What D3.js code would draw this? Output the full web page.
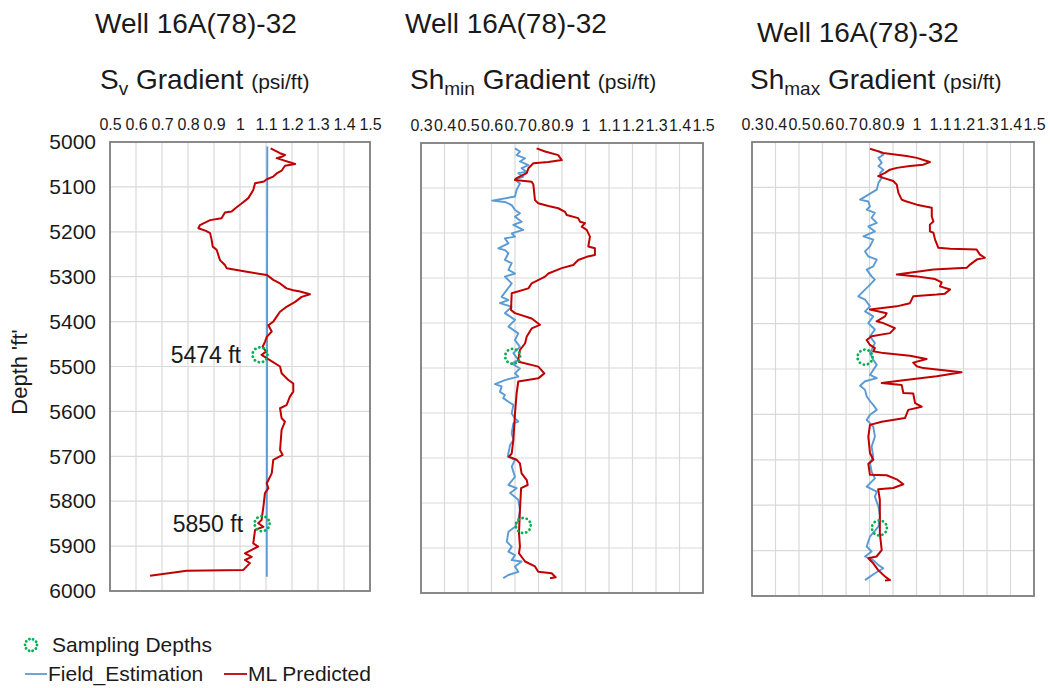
<!DOCTYPE html>
<html>
<head>
<meta charset="utf-8">
<script src="https://cdn.jsdelivr.net/npm/d3@7"></script>
<style>
  html, body { margin: 0; padding: 0; background: #fff; }
  svg { display: block; font-family: "Liberation Sans", Arial, sans-serif; }
</style>
</head>
<body>
<svg id="chart" width="1050" height="688"></svg>
<script>
// ---- Data: [depth (ft), gradient (psi/ft)] ----
const wellName = "Well 16A(78)-32";
const depthTicks = [5000, 5100, 5200, 5300, 5400, 5500, 5600, 5700, 5800, 5900, 6000];
const svTicks = [0.5, 0.6, 0.7, 0.8, 0.9, 1.0, 1.1, 1.2, 1.3, 1.4, 1.5];
const shTicks = [0.3, 0.4, 0.5, 0.6, 0.7, 0.8, 0.9, 1.0, 1.1, 1.2, 1.3, 1.4, 1.5];
const samplingDepths = [5474, 5850];
const samplingLabels = ["5474 ft", "5850 ft"];

const svField = [[5010, 1.105], [5300, 1.104], [5600, 1.104], [5850, 1.103], [5968, 1.103]];
const svML = [
  [5014,1.118],[5025,1.154],[5029,1.173],[5033,1.160],[5036,1.141],[5049,1.212],[5053,1.173],
  [5064,1.160],[5070,1.141],[5077,1.128],[5083,1.103],[5088,1.092],[5092,1.058],[5107,1.051],
  [5125,1.032],[5137,1.006],[5148,0.981],[5155,0.968],[5157,0.942],[5170,0.929],[5174,0.885],
  [5185,0.846],[5192,0.840],[5198,0.869],[5203,0.885],[5218,0.891],[5233,0.895],[5240,0.910],
  [5263,0.923],[5274,0.942],[5281,0.949],[5289,1.026],[5296,1.103],[5307,1.128],[5315,1.154],
  [5326,1.179],[5330,1.205],[5333,1.231],[5339,1.269],[5345,1.237],[5356,1.212],[5367,1.179],
  [5378,1.154],[5389,1.141],[5400,1.128],[5408,1.109],[5422,1.122],[5434,1.103],[5445,1.096],
  [5456,1.087],[5467,1.100],[5474,1.083],[5486,1.115],[5500,1.154],[5515,1.160],[5530,1.186],
  [5538,1.205],[5556,1.205],[5567,1.192],[5586,1.179],[5593,1.154],[5615,1.160],[5623,1.173],
  [5641,1.160],[5686,1.154],[5697,1.164],[5708,1.128],[5738,1.122],[5760,1.103],[5771,1.109],
  [5782,1.096],[5812,1.090],[5842,1.083],[5849,1.070],[5857,1.090],[5864,1.058],[5894,1.051],
  [5901,1.070],[5916,1.019],[5924,1.045],[5931,1.019],[5938,1.038],[5953,1.013],[5955,0.795],
  [5966,0.654]
];

const shminField = [
  [5012,0.700],[5019,0.721],[5027,0.707],[5034,0.743],[5041,0.721],[5049,0.757],[5056,0.728],
  [5064,0.750],[5067,0.714],[5075,0.735],[5081,0.700],[5090,0.721],[5104,0.707],[5119,0.700],
  [5128,0.603],[5131,0.657],[5138,0.686],[5149,0.700],[5156,0.721],[5164,0.700],[5175,0.728],
  [5182,0.693],[5193,0.735],[5201,0.686],[5208,0.700],[5212,0.657],[5223,0.672],[5234,0.629],
  [5238,0.657],[5245,0.672],[5260,0.657],[5267,0.686],[5282,0.672],[5290,0.700],[5297,0.657],
  [5312,0.686],[5342,0.643],[5349,0.672],[5356,0.636],[5364,0.686],[5378,0.657],[5393,0.700],
  [5408,0.672],[5423,0.714],[5438,0.700],[5453,0.721],[5467,0.693],[5482,0.714],[5490,0.686],
  [5501,0.721],[5512,0.700],[5519,0.714],[5527,0.657],[5536,0.615],[5541,0.643],[5553,0.636],
  [5560,0.657],[5567,0.650],[5575,0.672],[5582,0.693],[5601,0.686],[5612,0.700],[5619,0.714],
  [5623,0.693],[5645,0.686],[5660,0.693],[5671,0.679],[5697,0.669],[5704,0.700],[5719,0.686],
  [5742,0.700],[5760,0.672],[5767,0.707],[5778,0.679],[5793,0.714],[5816,0.721],[5838,0.714],
  [5853,0.700],[5864,0.672],[5886,0.665],[5897,0.686],[5908,0.672],[5916,0.700],[5927,0.686],
  [5930,0.728],[5941,0.700],[5953,0.714],[5960,0.672],[5967,0.650]
];
const shminML = [
  [5012,0.792],[5019,0.828],[5027,0.884],[5038,0.899],[5042,0.842],[5045,0.778],[5056,0.757],
  [5067,0.750],[5078,0.707],[5082,0.700],[5086,0.771],[5092,0.778],[5127,0.785],[5134,0.799],
  [5140,0.842],[5145,0.884],[5153,0.913],[5160,0.920],[5167,0.969],[5175,0.977],[5178,0.998],
  [5186,0.984],[5193,1.005],[5208,1.019],[5230,1.012],[5234,1.040],[5249,1.040],[5253,1.005],
  [5260,0.969],[5271,0.948],[5278,0.899],[5290,0.842],[5297,0.828],[5312,0.771],[5323,0.757],
  [5334,0.686],[5371,0.683],[5378,0.700],[5390,0.771],[5401,0.799],[5404,0.806],[5412,0.771],
  [5430,0.750],[5445,0.743],[5460,0.721],[5482,0.714],[5486,0.716],[5497,0.799],[5512,0.825],
  [5523,0.799],[5530,0.714],[5556,0.707],[5601,0.700],[5660,0.693],[5690,0.686],[5697,0.674],
  [5704,0.707],[5712,0.721],[5734,0.728],[5749,0.750],[5760,0.754],[5767,0.726],[5816,0.721],
  [5867,0.717],[5897,0.721],[5912,0.717],[5930,0.743],[5941,0.785],[5953,0.799],[5956,0.856],
  [5965,0.873],[5967,0.849]
];

const shmaxField = [
  [5020,0.838],[5028,0.859],[5035,0.838],[5046,0.852],[5053,0.838],[5061,0.859],[5068,0.845],
  [5079,0.852],[5090,0.838],[5105,0.831],[5127,0.760],[5131,0.795],[5142,0.802],[5149,0.788],
  [5156,0.823],[5167,0.809],[5178,0.831],[5186,0.795],[5197,0.823],[5208,0.774],[5215,0.816],
  [5230,0.802],[5241,0.781],[5252,0.795],[5259,0.831],[5274,0.816],[5281,0.788],[5296,0.809],
  [5303,0.823],[5318,0.795],[5340,0.752],[5347,0.781],[5362,0.802],[5373,0.781],[5384,0.816],
  [5399,0.795],[5413,0.823],[5428,0.802],[5443,0.823],[5465,0.802],[5480,0.816],[5491,0.831],
  [5502,0.816],[5513,0.802],[5520,0.831],[5527,0.781],[5537,0.760],[5546,0.781],[5560,0.788],
  [5571,0.802],[5579,0.816],[5590,0.831],[5601,0.802],[5612,0.788],[5627,0.816],[5649,0.823],
  [5671,0.809],[5693,0.816],[5707,0.802],[5726,0.809],[5741,0.823],[5759,0.788],[5770,0.831],
  [5781,0.823],[5803,0.838],[5825,0.845],[5847,0.838],[5869,0.802],[5891,0.788],[5902,0.809],
  [5913,0.781],[5921,0.816],[5932,0.838],[5939,0.859],[5950,0.823],[5965,0.781]
];
const shmaxML = [
  [5015,0.802],[5024,0.859],[5028,0.916],[5031,0.958],[5035,1.001],[5044,1.057],[5050,1.029],
  [5053,0.972],[5057,0.916],[5061,0.887],[5068,0.866],[5075,0.837],[5079,0.859],[5086,0.901],
  [5094,0.916],[5112,0.923],[5127,0.937],[5130,0.951],[5138,1.001],[5145,1.065],[5164,1.065],
  [5175,1.072],[5182,1.057],[5197,1.057],[5200,1.072],[5215,1.079],[5233,1.093],[5235,1.143],
  [5237,1.256],[5248,1.270],[5255,1.291],[5259,1.256],[5270,1.228],[5277,1.214],[5281,1.072],
  [5292,0.916],[5296,1.001],[5302,1.079],[5309,1.107],[5318,1.100],[5325,1.143],[5334,1.121],
  [5336,1.086],[5340,0.986],[5355,0.972],[5362,0.916],[5369,0.802],[5377,0.873],[5384,0.866],
  [5395,0.830],[5399,0.859],[5410,0.908],[5421,0.887],[5428,0.809],[5436,0.788],[5447,0.802],
  [5454,0.823],[5461,0.816],[5465,0.859],[5471,0.972],[5478,1.043],[5486,0.986],[5494,1.001],
  [5498,1.029],[5507,1.192],[5516,1.086],[5525,0.944],[5531,0.852],[5535,0.937],[5553,0.944],
  [5554,0.986],[5575,0.994],[5583,1.022],[5590,0.965],[5608,0.951],[5616,0.852],[5623,0.802],
  [5649,0.795],[5685,0.802],[5700,0.816],[5709,0.795],[5733,0.802],[5734,0.873],[5743,0.916],
  [5754,0.944],[5762,0.901],[5765,0.837],[5788,0.844],[5862,0.844],[5899,0.852],[5913,0.830],
  [5917,0.795],[5928,0.816],[5943,0.837],[5957,0.866],[5965,0.887],[5966,0.866]
];
const svSample = [1.077, 1.085];
const shminSample = [0.690, 0.735];
const shmaxSample = [0.781, 0.842];

// ---- Layout ----
const svg = d3.select("#chart");
const fieldColor = "#5b9bd5";
const mlColor = "#c00000";
const sampleColor = "#00b050";
const gridColor = "#d9d9d9";
const textColor = "#1a1a1a";

const panels = [
  { x0: 110, x1: 370, y0: 142, y1: 591, ticks: svTicks, field: svField, ml: svML,
    samples: svSample, sub: "v", titleX: 95, titleY: 33, gradX: 100, leftAxis: true, labels: true },
  { x0: 421, x1: 703, y0: 143, y1: 593, ticks: shTicks, field: shminField, ml: shminML,
    samples: shminSample, sub: "min", titleX: 405, titleY: 33, gradX: 410 },
  { x0: 752, x1: 1034, y0: 142, y1: 596, ticks: shTicks, field: shmaxField, ml: shmaxML,
    samples: shmaxSample, sub: "max", titleX: 757, titleY: 42, gradX: 750 }
];
const prefix = ["S", "Sh", "Sh"];

const tickFmt = d => (Math.round(d * 10) / 10).toString();

panels.forEach((p, i) => {
  const x = d3.scaleLinear().domain([p.ticks[0], p.ticks[p.ticks.length - 1]]).range([p.x0, p.x1]);
  const y = d3.scaleLinear().domain([5000, 6000]).range([p.y0, p.y1]);
  const g = svg.append("g");

  // Titles
  g.append("text").attr("x", p.titleX).attr("y", p.titleY)
    .attr("font-size", 28).attr("fill", textColor).text(wellName);
  const t = g.append("text").attr("x", p.gradX).attr("y", 89).attr("fill", textColor).attr("font-size", 28);
  t.append("tspan").text(prefix[i]);
  t.append("tspan").attr("font-size", 19).attr("dy", 6).text(p.sub);
  t.append("tspan").attr("dy", -6).text(" Gradient ");
  t.append("tspan").attr("font-size", 21).text("(psi/ft)");

  // Grid
  g.append("g").selectAll("line").data(p.ticks).join("line")
    .attr("x1", d => x(d)).attr("x2", d => x(d)).attr("y1", p.y0).attr("y2", p.y1)
    .attr("stroke", gridColor).attr("stroke-width", 1.2);
  g.append("g").selectAll("line").data(depthTicks).join("line")
    .attr("x1", p.x0).attr("x2", p.x1).attr("y1", d => y(d)).attr("y2", d => y(d))
    .attr("stroke", gridColor).attr("stroke-width", 1.2);

  // Top axis labels
  const ax = g.append("g").attr("transform", `translate(0,${p.y0})`)
    .call(d3.axisTop(x).tickValues(p.ticks).tickFormat(tickFmt).tickSize(0).tickPadding(12));
  ax.select(".domain").remove();
  ax.selectAll("text").attr("font-size", 16).attr("fill", textColor)
    .attr("font-family", "Liberation Sans, Arial, sans-serif");

  if (p.leftAxis) {
    const ay = g.append("g").attr("transform", `translate(${p.x0},0)`)
      .call(d3.axisLeft(y).tickValues(depthTicks).tickSize(0).tickPadding(14).tickFormat(d3.format("d")));
    ay.select(".domain").remove();
    ay.selectAll("text").attr("font-size", 21).attr("fill", textColor)
      .attr("font-family", "Liberation Sans, Arial, sans-serif");
  }

  // Frame
  g.append("rect").attr("x", p.x0).attr("y", p.y0).attr("width", p.x1 - p.x0).attr("height", p.y1 - p.y0)
    .attr("fill", "none").attr("stroke", "#7f7f7f").attr("stroke-width", 1.8);

  // Curves
  const line = d3.line().x(d => x(d[1])).y(d => y(d[0]));
  g.append("path").datum(p.field).attr("d", line).attr("fill", "none")
    .attr("stroke", fieldColor).attr("stroke-width", 1.9).attr("stroke-linejoin", "round");
  g.append("path").datum(p.ml).attr("d", line).attr("fill", "none")
    .attr("stroke", mlColor).attr("stroke-width", 2).attr("stroke-linejoin", "round");

  // Sampling depth markers
  g.append("g").selectAll("circle").data(samplingDepths).join("circle")
    .attr("cx", (d, k) => x(p.samples[k])).attr("cy", d => y(d)).attr("r", 7.5)
    .attr("fill", "none").attr("stroke", sampleColor).attr("stroke-width", 2.8)
    .attr("stroke-linecap", "round").attr("stroke-dasharray", "0.1 4.2");

  if (p.labels) {
    g.append("g").selectAll("text").data(samplingDepths).join("text")
      .attr("x", (d, k) => x(p.samples[k]) - 19).attr("y", d => y(d)).attr("dy", "0.35em")
      .attr("text-anchor", "end").attr("font-size", 23).attr("fill", textColor)
      .text((d, k) => samplingLabels[k]);
  }
});

// Depth axis title
svg.append("text").attr("transform", "translate(27,372) rotate(-90)")
  .attr("text-anchor", "middle").attr("font-size", 22).attr("fill", textColor).text("Depth 'ft'");

// Legend
const lg = svg.append("g");
lg.append("circle").attr("cx", 31).attr("cy", 645).attr("r", 6)
  .attr("fill", "none").attr("stroke", sampleColor).attr("stroke-width", 2.8)
  .attr("stroke-linecap", "round").attr("stroke-dasharray", "0.1 3.6");
lg.append("text").attr("x", 52).attr("y", 652).attr("font-size", 21).attr("fill", textColor).text("Sampling Depths");
lg.append("line").attr("x1", 25).attr("x2", 47).attr("y1", 674).attr("y2", 674)
  .attr("stroke", fieldColor).attr("stroke-width", 1.8);
lg.append("text").attr("x", 48).attr("y", 681).attr("font-size", 21).attr("fill", textColor).text("Field_Estimation");
lg.append("line").attr("x1", 224).attr("x2", 247).attr("y1", 674).attr("y2", 674)
  .attr("stroke", mlColor).attr("stroke-width", 1.8);
lg.append("text").attr("x", 248).attr("y", 681).attr("font-size", 21).attr("fill", textColor).text("ML Predicted");
</script>
</body>
</html>
